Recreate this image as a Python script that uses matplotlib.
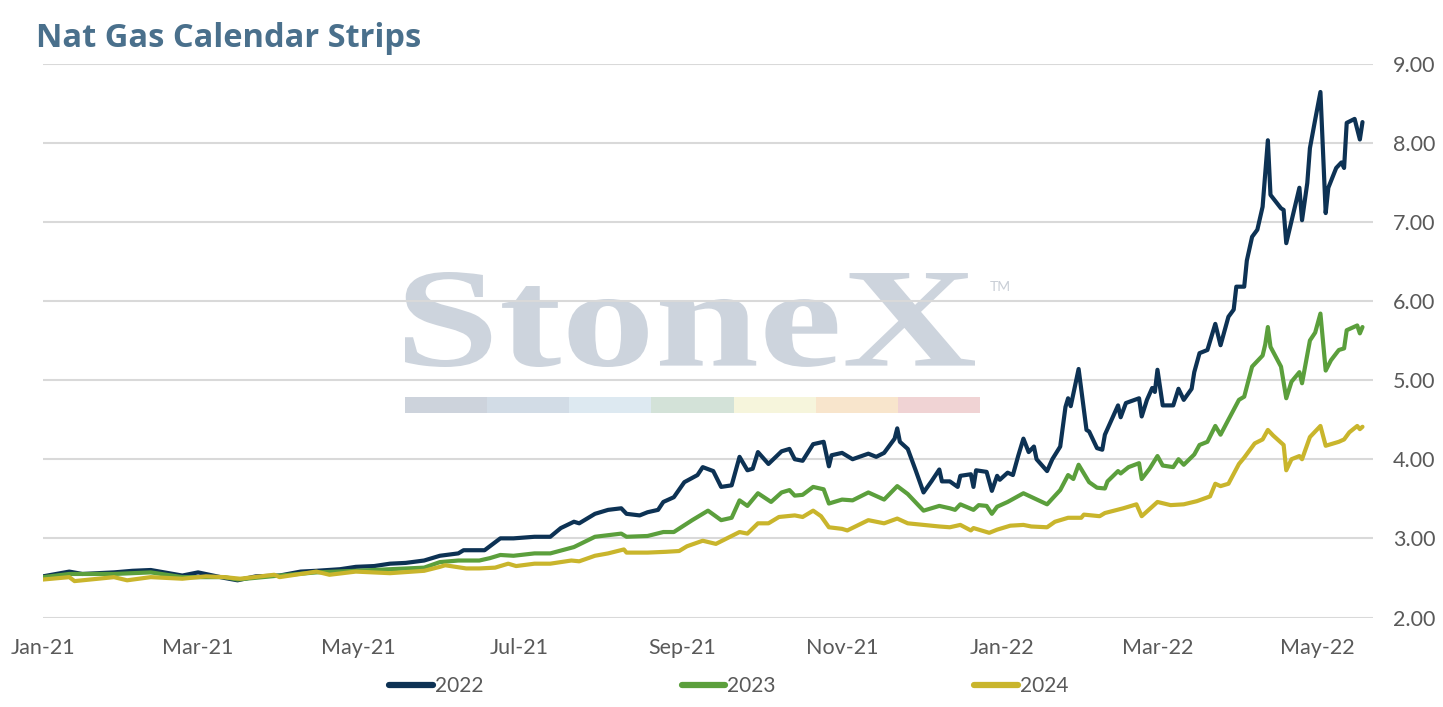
import matplotlib
matplotlib.use("Agg")
import matplotlib.pyplot as plt
import matplotlib.dates as mdates
import pandas as pd
from matplotlib.lines import Line2D
from matplotlib.patches import PathPatch, Rectangle
from matplotlib.textpath import TextPath
from matplotlib.font_manager import FontProperties
from matplotlib.transforms import Affine2D

plt.rcParams['font.family'] = ['Lato', 'DejaVu Sans']

# ---------------- data ----------------
title = "Nat Gas Calendar Strips"
series_names = ["2022", "2023", "2024"]
series_colors = ["#0d3254", "#5b9f3c", "#c9b52c"]

dates_2022 = ["2021-01-01","2021-01-11","2021-01-16","2021-01-28","2021-02-04","2021-02-11","2021-02-23",
    "2021-03-01","2021-03-11","2021-03-16","2021-03-23","2021-04-01","2021-04-09","2021-04-15","2021-04-24",
    "2021-04-30","2021-05-07","2021-05-13","2021-05-19","2021-05-26","2021-06-01","2021-06-08","2021-06-10",
    "2021-06-18","2021-06-20","2021-06-24","2021-06-29","2021-07-07","2021-07-13","2021-07-17","2021-07-22",
    "2021-07-24","2021-07-30","2021-08-04","2021-08-09","2021-08-11","2021-08-16","2021-08-19","2021-08-23",
    "2021-08-25","2021-08-29","2021-09-02","2021-09-07","2021-09-09","2021-09-13","2021-09-16","2021-09-20",
    "2021-09-23","2021-09-26","2021-09-28","2021-09-30","2021-10-04","2021-10-09","2021-10-12","2021-10-14",
    "2021-10-17","2021-10-21","2021-10-25","2021-10-27","2021-10-28","2021-11-01","2021-11-05","2021-11-11",
    "2021-11-14","2021-11-17","2021-11-19","2021-11-21","2021-11-22","2021-11-23","2021-11-26","2021-11-29",
    "2021-12-02","2021-12-05","2021-12-08","2021-12-09","2021-12-12","2021-12-15","2021-12-16","2021-12-20",
    "2021-12-21","2021-12-22","2021-12-26","2021-12-28","2021-12-30","2021-12-31","2022-01-03","2022-01-05",
    "2022-01-07","2022-01-09","2022-01-11","2022-01-13","2022-01-14","2022-01-18","2022-01-20","2022-01-23",
    "2022-01-25","2022-01-26","2022-01-27","2022-01-30","2022-02-02","2022-02-03","2022-02-06","2022-02-08",
    "2022-02-09","2022-02-14","2022-02-15","2022-02-17","2022-02-22","2022-02-23","2022-02-25","2022-02-27",
    "2022-02-28","2022-03-01","2022-03-03","2022-03-07","2022-03-09","2022-03-11","2022-03-14","2022-03-15",
    "2022-03-17","2022-03-20","2022-03-23","2022-03-25","2022-03-28","2022-03-30","2022-03-31","2022-04-03",
    "2022-04-04","2022-04-06","2022-04-08","2022-04-10","2022-04-12","2022-04-13","2022-04-17","2022-04-18",
    "2022-04-19","2022-04-24","2022-04-25","2022-04-27","2022-04-28","2022-04-30","2022-05-02","2022-05-04",
    "2022-05-05","2022-05-08","2022-05-10","2022-05-11","2022-05-12","2022-05-15","2022-05-17","2022-05-18"]
values_2022 = [2.52,2.58,2.55,2.57,2.59,2.60,2.53,
    2.57,2.50,2.47,2.52,2.53,2.58,2.59,2.61,
    2.64,2.65,2.68,2.69,2.72,2.78,2.81,2.85,
    2.85,2.90,3.00,3.00,3.02,3.02,3.13,3.21,
    3.19,3.31,3.36,3.38,3.31,3.29,3.33,3.36,
    3.46,3.52,3.71,3.80,3.90,3.85,3.65,3.67,
    4.03,3.86,3.88,4.09,3.94,4.10,4.13,4.00,
    3.98,4.19,4.22,3.91,4.05,4.08,4.00,4.07,
    4.03,4.08,4.17,4.26,4.39,4.22,4.13,3.86,
    3.58,3.72,3.87,3.72,3.72,3.65,3.79,3.81,
    3.65,3.86,3.84,3.60,3.79,3.74,3.83,3.80,
    4.04,4.26,4.09,4.16,4.00,3.85,4.00,4.16,
    4.66,4.77,4.67,5.14,4.37,4.35,4.14,4.12,
    4.31,4.68,4.53,4.71,4.77,4.54,4.75,4.90,
    4.85,5.13,4.68,4.68,4.89,4.75,4.89,5.10,
    5.34,5.38,5.71,5.44,5.80,5.89,6.18,6.18,
    6.51,6.81,6.90,7.19,8.03,7.34,7.17,7.15,
    6.73,7.43,7.02,7.49,7.93,8.29,8.64,7.11,
    7.43,7.68,7.75,7.68,8.25,8.30,8.04,8.26]

dates_2023 = ["2021-01-01","2021-01-11","2021-01-28","2021-02-11","2021-02-23","2021-03-11","2021-03-16",
    "2021-04-01","2021-04-15","2021-04-30","2021-05-13","2021-05-26","2021-06-01","2021-06-08","2021-06-16",
    "2021-06-20","2021-06-24","2021-06-29","2021-07-07","2021-07-13","2021-07-22","2021-07-30","2021-08-09",
    "2021-08-11","2021-08-19","2021-08-25","2021-08-29","2021-09-05","2021-09-11","2021-09-16","2021-09-20",
    "2021-09-23","2021-09-26","2021-09-30","2021-10-05","2021-10-09","2021-10-12","2021-10-14","2021-10-17",
    "2021-10-21","2021-10-25","2021-10-27","2021-11-01","2021-11-05","2021-11-11","2021-11-17","2021-11-22",
    "2021-11-26","2021-12-02","2021-12-08","2021-12-12","2021-12-14","2021-12-16","2021-12-21","2021-12-23",
    "2021-12-26","2021-12-28","2021-12-30","2022-01-03","2022-01-09","2022-01-18","2022-01-23","2022-01-26",
    "2022-01-28","2022-01-30","2022-02-03","2022-02-06","2022-02-09","2022-02-10","2022-02-14","2022-02-15",
    "2022-02-18","2022-02-22","2022-02-23","2022-02-26","2022-03-01","2022-03-03","2022-03-07","2022-03-09",
    "2022-03-11","2022-03-15","2022-03-17","2022-03-20","2022-03-23","2022-03-25","2022-03-28","2022-04-01",
    "2022-04-03","2022-04-06","2022-04-10","2022-04-11","2022-04-12","2022-04-13","2022-04-17","2022-04-19",
    "2022-04-21","2022-04-24","2022-04-25","2022-04-28","2022-04-30","2022-05-02","2022-05-04","2022-05-06",
    "2022-05-09","2022-05-11","2022-05-12","2022-05-16","2022-05-17","2022-05-18"]
values_2023 = [2.51,2.55,2.55,2.57,2.51,2.51,2.48,
    2.53,2.57,2.59,2.61,2.63,2.70,2.72,2.72,
    2.75,2.79,2.78,2.81,2.81,2.89,3.02,3.06,
    3.02,3.03,3.08,3.08,3.23,3.35,3.23,3.26,
    3.48,3.41,3.57,3.46,3.58,3.61,3.54,3.55,
    3.65,3.62,3.44,3.49,3.48,3.58,3.49,3.66,
    3.56,3.35,3.41,3.38,3.36,3.43,3.36,3.42,
    3.41,3.31,3.40,3.46,3.57,3.43,3.61,3.80,
    3.75,3.93,3.71,3.64,3.63,3.72,3.85,3.82,
    3.90,3.95,3.75,3.88,4.04,3.92,3.90,4.00,
    3.93,4.06,4.18,4.22,4.42,4.31,4.50,4.75,
    4.79,5.17,5.31,5.45,5.67,5.42,5.17,4.77,
    4.98,5.10,4.96,5.50,5.60,5.84,5.12,5.25,
    5.38,5.40,5.63,5.69,5.59,5.67]

dates_2024 = ["2021-01-01","2021-01-11","2021-01-13","2021-01-28","2021-02-02","2021-02-11","2021-02-23",
    "2021-03-04","2021-03-11","2021-03-17","2021-03-30","2021-04-01","2021-04-15","2021-04-20","2021-04-30",
    "2021-05-13","2021-05-26","2021-06-01","2021-06-03","2021-06-11","2021-06-16","2021-06-22","2021-06-27",
    "2021-06-30","2021-07-07","2021-07-13","2021-07-21","2021-07-24","2021-07-30","2021-08-04","2021-08-10",
    "2021-08-11","2021-08-19","2021-08-26","2021-08-31","2021-09-03","2021-09-09","2021-09-14","2021-09-23",
    "2021-09-26","2021-09-30","2021-10-04","2021-10-08","2021-10-14","2021-10-17","2021-10-21","2021-10-24",
    "2021-10-27","2021-11-01","2021-11-03","2021-11-11","2021-11-17","2021-11-22","2021-11-26","2021-12-02",
    "2021-12-08","2021-12-12","2021-12-16","2021-12-20","2021-12-21","2021-12-27","2021-12-30","2022-01-04",
    "2022-01-09","2022-01-12","2022-01-18","2022-01-21","2022-01-26","2022-01-31","2022-02-01","2022-02-07",
    "2022-02-09","2022-02-16","2022-02-21","2022-02-23","2022-03-01","2022-03-06","2022-03-11","2022-03-16",
    "2022-03-21","2022-03-23","2022-03-25","2022-03-28","2022-04-01","2022-04-03","2022-04-07","2022-04-10",
    "2022-04-12","2022-04-14","2022-04-18","2022-04-19","2022-04-21","2022-04-24","2022-04-25","2022-04-28",
    "2022-05-02","2022-05-04","2022-05-09","2022-05-11","2022-05-13","2022-05-16","2022-05-17","2022-05-18"]
values_2024 = [2.48,2.51,2.46,2.51,2.47,2.51,2.49,
    2.52,2.51,2.49,2.54,2.51,2.58,2.54,2.58,
    2.56,2.59,2.64,2.66,2.62,2.62,2.63,2.68,
    2.65,2.68,2.68,2.72,2.71,2.78,2.81,2.86,
    2.82,2.82,2.83,2.84,2.90,2.97,2.93,3.08,
    3.06,3.19,3.19,3.27,3.29,3.27,3.35,3.28,
    3.14,3.12,3.10,3.23,3.19,3.25,3.19,3.17,
    3.15,3.14,3.17,3.10,3.13,3.07,3.11,3.16,
    3.17,3.15,3.14,3.21,3.26,3.26,3.30,3.28,
    3.32,3.38,3.43,3.28,3.46,3.42,3.43,3.47,
    3.53,3.69,3.66,3.69,3.94,4.02,4.20,4.25,
    4.37,4.30,4.18,3.86,4.00,4.04,4.00,4.28,
    4.42,4.17,4.22,4.25,4.34,4.42,4.38,4.41]

y_ticks = [2.0, 3.0, 4.0, 5.0, 6.0, 7.0, 8.0, 9.0]
x_start, x_end = "2021-01-01", "2022-05-22"

watermark_text = "StoneX"
watermark_bar_colors = ["#cdd3dc", "#d2dce6", "#dde9f1", "#d3e2d8", "#f6f5dc", "#f8e5cc", "#f0d3d4"]

# ---------------- figure ----------------
W, H = 1443, 707
fig = plt.figure(figsize=(W / 100, H / 100), dpi=100)
ax = fig.add_axes([43 / W, 1 - 617.5 / H, (1373 - 43) / W, (617.5 - 63.5) / H])
ax.set_facecolor("none")

px = Affine2D().scale(1 / W, 1 / H) + fig.transFigure  # pixel-from-bottom-left -> figure

# watermark text
fp = FontProperties(family="Liberation Serif", weight="bold")
tp = TextPath((0, 0), watermark_text, size=100, prop=fp)
ext = tp.get_extents()
x0, x1, yb, yt = 405, 975, H - 367, H - 272
tr = Affine2D().translate(-ext.x0, -ext.y0).scale((x1 - x0) / ext.width, (yt - yb) / ext.height).translate(x0, yb)
wm = PathPatch(tr.transform_path(tp), transform=px, fc="#cdd4dd", ec="none", zorder=-2)
fig.add_artist(wm)
fig.text(990 / W, 1 - 287 / H, "TM", transform=fig.transFigure, fontsize=10, color="#c9ced6",
         va="center", ha="left", zorder=-2)
bw = (980 - 405) / len(watermark_bar_colors)
for i, c in enumerate(watermark_bar_colors):
    fig.add_artist(Rectangle((405 + i * bw, H - 413), bw, 16, transform=px, fc=c, ec="none", zorder=-2))

# lines
all_dates = [dates_2022, dates_2023, dates_2024]
all_vals = [values_2022, values_2023, values_2024]
for name, d, v, c in zip(series_names, all_dates, all_vals, series_colors):
    ax.plot(pd.to_datetime(d), v, color=c, lw=3.0, solid_joinstyle="round", solid_capstyle="round",
            label=name, zorder=3)

ax.set_xlim(pd.Timestamp(x_start), pd.Timestamp(x_end))
ax.set_ylim(y_ticks[0], y_ticks[-1])
ax.set_yticks(y_ticks)
ax.yaxis.set_major_formatter(matplotlib.ticker.FormatStrFormatter("%.2f"))
ax.yaxis.tick_right()
ax.xaxis.set_major_locator(mdates.MonthLocator(bymonth=[1, 3, 5, 7, 9, 11]))
ax.xaxis.set_major_formatter(mdates.DateFormatter("%b-%y"))
ax.tick_params(axis="both", length=0, labelsize=15.5, labelcolor="#595959")
ax.tick_params(axis="y", pad=14.4)
ax.tick_params(axis="x", pad=15)
ax.set_axisbelow(True)
ax.grid(axis="y", color="#d9d9d9", lw=1.5)
ax.grid(axis="x", visible=False)
for s in ax.spines.values():
    s.set_visible(False)

# title
fig.text(36 / W, 1 - 47 / H, title, fontsize=23.5, fontweight="bold", color="#4a708c",
         ha="left", va="baseline", family=["Open Sans", "DejaVu Sans"])

# legend
handles = [Line2D([0], [0], color=c, lw=4.5, solid_capstyle="round") for c in series_colors]
fig.legend(handles, series_names, loc="center", bbox_to_anchor=(0.505, 1 - 686 / H), ncol=3,
           frameon=False, fontsize=15, handlelength=2.1, handletextpad=0.1, columnspacing=9.5,
           labelcolor="#595959")

fig.savefig("out.png", dpi=100)
